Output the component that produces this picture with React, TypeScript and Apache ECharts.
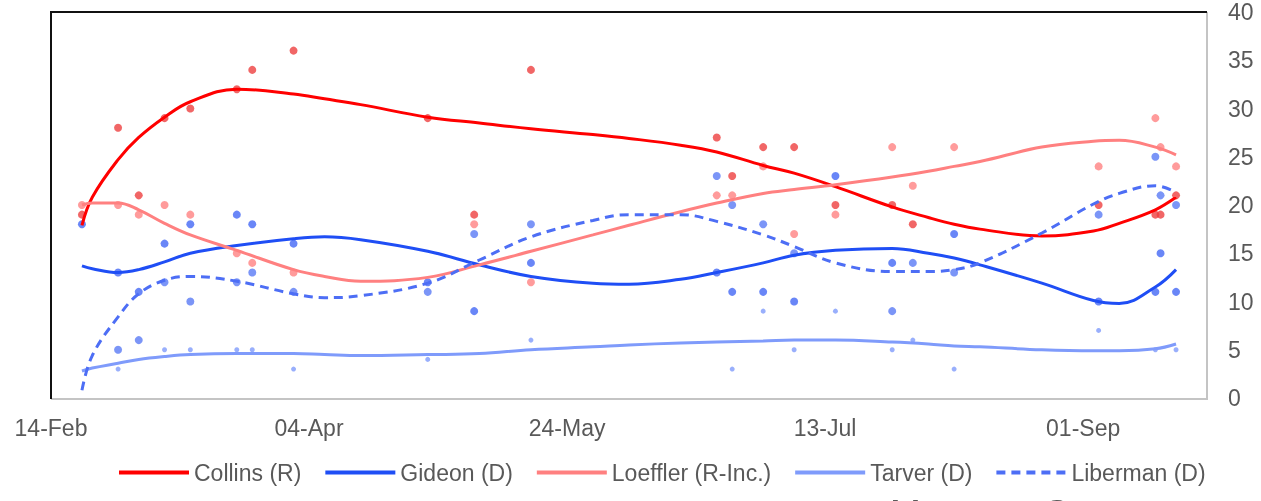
import React, { useEffect, useRef } from 'react';
import * as echarts from 'echarts';

const startDate = '2020-02-14';
const xTickLabels = ['14-Feb', '04-Apr', '24-May', '13-Jul', '01-Sep'];
const xMaxDay = 224;
const xTickStep = 50;

const seriesNames = ['Collins (R)', 'Gideon (D)', 'Loeffler (R-Inc.)', 'Tarver (D)', 'Liberman (D)'];

// Poll results (date, %)
const collinsPolls: [string, number][] = [
  ['2020-02-20', 19], ['2020-02-27', 28], ['2020-03-02', 21], ['2020-03-07', 29], ['2020-03-12', 30],
  ['2020-03-21', 32], ['2020-03-24', 34], ['2020-04-01', 36], ['2020-04-27', 29], ['2020-05-06', 19],
  ['2020-05-17', 34], ['2020-06-22', 27], ['2020-06-25', 23], ['2020-07-01', 26], ['2020-07-07', 26],
  ['2020-07-15', 20], ['2020-07-26', 20], ['2020-07-30', 18], ['2020-09-04', 20], ['2020-09-15', 19],
  ['2020-09-16', 19], ['2020-09-19', 21],
];
const gideonPolls: [string, number][] = [
  ['2020-02-20', 18], ['2020-02-27', 13], ['2020-03-02', 11], ['2020-03-07', 16], ['2020-03-12', 18],
  ['2020-03-21', 19], ['2020-03-24', 18], ['2020-04-01', 16], ['2020-04-27', 12], ['2020-05-06', 9],
  ['2020-05-17', 14], ['2020-06-22', 13], ['2020-06-25', 11], ['2020-07-01', 11], ['2020-07-07', 10],
  ['2020-07-15', 23], ['2020-07-26', 14], ['2020-08-07', 17], ['2020-09-04', 10], ['2020-09-15', 11],
  ['2020-09-16', 15], ['2020-09-19', 11],
];
const loefflerPolls: [string, number][] = [
  ['2020-02-20', 20], ['2020-02-27', 20], ['2020-03-02', 19], ['2020-03-07', 20], ['2020-03-12', 19],
  ['2020-03-21', 15], ['2020-03-24', 14], ['2020-04-01', 13], ['2020-05-06', 18], ['2020-05-17', 12],
  ['2020-06-22', 21], ['2020-06-25', 21], ['2020-07-01', 24], ['2020-07-07', 17], ['2020-07-15', 19],
  ['2020-07-26', 26], ['2020-07-30', 22], ['2020-08-07', 26], ['2020-09-04', 24], ['2020-09-15', 29],
  ['2020-09-16', 26], ['2020-09-19', 24],
];
const tarverPolls: [string, number][] = [
  ['2020-02-27', 3], ['2020-03-07', 5], ['2020-03-12', 5], ['2020-03-21', 5], ['2020-03-24', 5],
  ['2020-04-01', 3], ['2020-04-27', 4], ['2020-05-17', 6], ['2020-06-25', 3], ['2020-07-01', 9],
  ['2020-07-07', 5], ['2020-07-15', 9], ['2020-07-26', 5], ['2020-07-30', 6], ['2020-08-07', 3],
  ['2020-09-04', 7], ['2020-09-15', 5], ['2020-09-19', 5],
];
const libermanPolls: [string, number][] = [
  ['2020-02-27', 5], ['2020-03-02', 6], ['2020-03-07', 12], ['2020-03-12', 10], ['2020-03-21', 12],
  ['2020-03-24', 13], ['2020-04-01', 11], ['2020-04-27', 11], ['2020-05-06', 17], ['2020-05-17', 18],
  ['2020-06-22', 23], ['2020-06-25', 20], ['2020-07-01', 18], ['2020-07-07', 15], ['2020-07-26', 9],
  ['2020-07-30', 14], ['2020-08-07', 13], ['2020-09-04', 19], ['2020-09-15', 25], ['2020-09-16', 21],
  ['2020-09-19', 20],
];

// Trend lines
const trendDates = [
  '2020-02-20', '2020-02-22', '2020-02-27', '2020-03-02', '2020-03-07', '2020-03-12', '2020-03-21',
  '2020-04-01', '2020-04-07', '2020-04-14', '2020-04-27', '2020-05-07', '2020-05-17', '2020-05-29',
  '2020-06-05', '2020-06-15', '2020-06-22', '2020-07-01', '2020-07-07', '2020-07-15', '2020-07-26',
  '2020-08-02', '2020-08-07', '2020-08-12', '2020-08-24', '2020-09-03', '2020-09-08', '2020-09-15',
  '2020-09-19',
];
const collinsTrend = [17.9, 20.8, 24.7, 27.0, 29.1, 30.7, 32.0, 31.5, 31.0, 30.4, 29.1, 28.5, 27.9, 27.3, 26.9, 26.2, 25.5, 24.1, 23.3, 21.9, 19.8, 18.7, 18.0, 17.5, 16.8, 17.3, 18.1, 19.5, 20.8];
const gideonTrend = [13.7, 13.4, 13.0, 13.3, 14.1, 15.0, 15.8, 16.5, 16.7, 16.4, 15.2, 13.8, 12.6, 11.9, 11.8, 12.3, 13.0, 14.0, 14.8, 15.3, 15.5, 15.0, 14.5, 13.8, 11.9, 10.1, 9.8, 11.5, 13.3];
const loefflerTrend = [20.0, 20.2, 20.2, 19.5, 18.1, 16.9, 15.3, 13.3, 12.6, 12.1, 12.5, 13.8, 15.2, 16.9, 17.9, 19.3, 20.2, 21.2, 21.6, 22.1, 22.9, 23.5, 24.0, 24.5, 26.0, 26.6, 26.7, 26.0, 25.2];
const tarverTrend = [2.8, 3.1, 3.6, 4.0, 4.3, 4.5, 4.6, 4.6, 4.5, 4.4, 4.5, 4.6, 5.0, 5.3, 5.5, 5.7, 5.8, 5.9, 6.0, 6.0, 5.8, 5.6, 5.4, 5.3, 5.0, 4.9, 4.9, 5.1, 5.6];
const libermanTrend = [0.8, 4.4, 8.4, 10.8, 12.2, 12.6, 12.1, 10.8, 10.4, 10.6, 11.9, 14.3, 16.7, 18.4, 19.0, 19.0, 18.3, 16.9, 15.7, 14.0, 13.1, 13.1, 13.3, 14.0, 17.1, 20.1, 21.2, 22.0, 21.3];

const lineColors = ['#ff0000', '#1f4ef5', '#ff8080', '#7f9bfb', '#4d6ef5'];
const dotColors = ['#ee4040', '#4468f5', '#ff8282', '#7f9bfb', '#5a7bf5'];

const dayOf = (s: string) => Math.round((Date.parse(s) - Date.parse(startDate)) / 86400000);

const FONT = '"Liberation Sans", Arial, sans-serif';
const TEXT = '#595959';

export default function App() {
  const ref = useRef<HTMLDivElement>(null);
  useEffect(() => {
    if (!ref.current) return;
    const chart = echarts.init(ref.current, null, { renderer: 'svg' });
    const polls = [collinsPolls, gideonPolls, loefflerPolls, tarverPolls, libermanPolls];
    const trends = [collinsTrend, gideonTrend, loefflerTrend, tarverTrend, libermanTrend];
    const trendDays = trendDates.map(dayOf);

    const scatter = polls.map((p, i) => ({
      name: seriesNames[i] + ' polls',
      type: 'scatter',
      symbol: 'circle',
      symbolSize: i === 3 ? 5 : 8,
      itemStyle: { color: dotColors[i] },
      z: 2,
      data: p.map(([d, v]) => [dayOf(d), v]),
    }));
    const lines = trends.map((t, i) => ({
      name: seriesNames[i],
      type: 'line',
      symbol: 'none',
      smooth: 0.4,
      z: 3,
      lineStyle: { color: lineColors[i], width: 3, type: i === 4 ? [9, 6] : 'solid' },
      itemStyle: { color: lineColors[i] },
      data: t.map((v, k) => [trendDays[k], v]),
    }));

    chart.setOption({
      animation: false,
      textStyle: { fontFamily: FONT },
      grid: { left: 51, right: 54, top: 12, bottom: 103, containLabel: false },
      xAxis: {
        type: 'value',
        min: 0,
        max: xMaxDay,
        interval: xTickStep,
        axisLine: { show: false },
        axisTick: { show: false },
        splitLine: { show: false },
        axisLabel: {
          show: true,
          margin: 18,
          fontSize: 23,
          color: TEXT,
          fontFamily: FONT,
          showMaxLabel: false,
          formatter: (v: number) => (v % xTickStep === 0 ? xTickLabels[v / xTickStep] ?? '' : ''),
        },
      },
      yAxis: {
        type: 'value',
        position: 'right',
        min: 0,
        max: 40,
        interval: 5,
        axisLine: { show: false },
        axisTick: { show: false },
        splitLine: { show: false },
        axisLabel: { margin: 21, fontSize: 23, color: TEXT, fontFamily: FONT, align: 'left' },
      },
      legend: {
        data: seriesNames,
        top: 456,
        left: 112,
        itemWidth: 70,
        itemHeight: 14,
        itemGap: 22,
        itemStyle: { opacity: 0 },
        lineStyle: { width: 4 },
        textStyle: { fontSize: 23, color: TEXT, fontFamily: FONT },
      },
      graphic: [
        { type: 'line', shape: { x1: 51, y1: 399, x2: 1208, y2: 399 }, style: { stroke: '#c4c4c4', lineWidth: 2 }, z: 10 },
        { type: 'line', shape: { x1: 1207, y1: 12, x2: 1207, y2: 399 }, style: { stroke: '#c4c4c4', lineWidth: 2 }, z: 10 },
        { type: 'line', shape: { x1: 51, y1: 12, x2: 1207, y2: 12 }, style: { stroke: '#111', lineWidth: 2 }, z: 11 },
        { type: 'line', shape: { x1: 51, y1: 11, x2: 51, y2: 399 }, style: { stroke: '#111', lineWidth: 2 }, z: 11 },
        {
          type: 'text', left: 890, top: 495, z: 10,
          style: { text: 'Montana Senate', fontSize: 37, fill: TEXT, fontFamily: FONT },
        },
      ],
      series: [...scatter, ...lines],
    });
    return () => chart.dispose();
  }, []);
  return <div ref={ref} style={{ position: 'fixed', left: 0, top: 0, width: 1261, height: 501 }} />;
}
